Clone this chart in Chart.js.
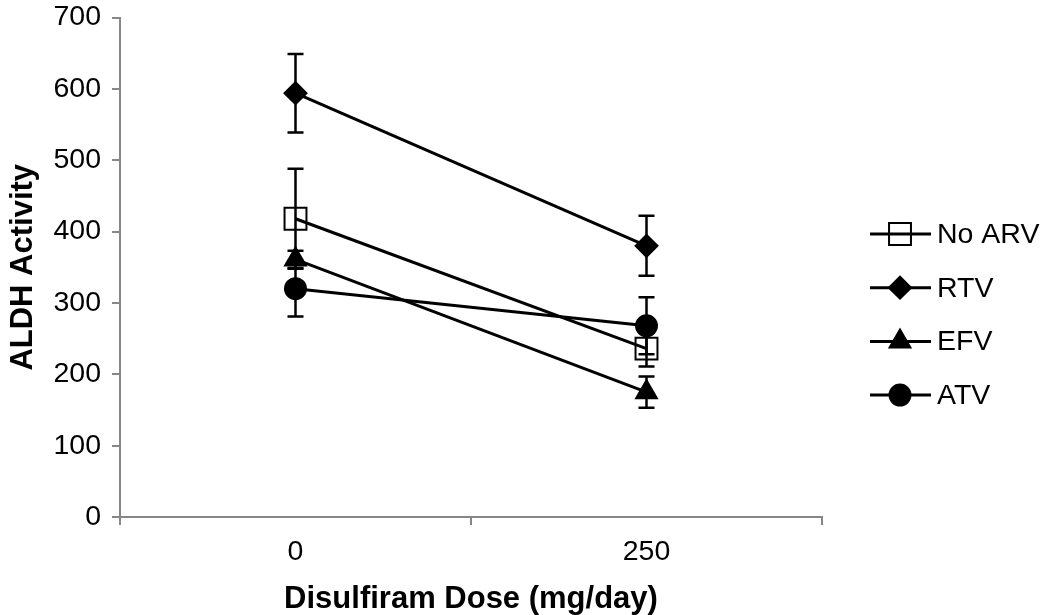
<!DOCTYPE html>
<html>
<head>
<meta charset="utf-8">
<script src="https://cdn.jsdelivr.net/npm/chart.js@4/dist/chart.umd.min.js"></script>
<style>
  html, body { margin: 0; padding: 0; background: #fff; }
  #wrap { width: 1050px; height: 615px; }
</style>
</head>
<body>
<div id="wrap"><canvas id="myChart"></canvas></div>
<script>
// Data
const doses = ["0", "250"];
const seriesNames = ["No ARV", "RTV", "EFV", "ATV"];
const noArv = [418, 236];
const rtv = [594, 380];
const efv = [361, 175];
const atv = [320, 268];
// error bars (+/-)
const noArvErr = [70, 25];
const rtvErr = [55, 42];
const efvErr = [12, 22];
const atvErr = [39, 40];
const yTicks = [0, 100, 200, 300, 400, 500, 600, 700];

const FONT = "Arial, 'Liberation Sans', sans-serif";
const AXIS_GREY = "#878787";

function series(label, data, err, style, radius, fill) {
  return {
    label: label,
    data: data,
    errors: err,
    borderColor: "#000",
    borderWidth: 3,
    pointStyle: style,
    pointRadius: radius,
    pointHoverRadius: radius,
    pointBackgroundColor: fill,
    pointBorderColor: "#000",
    pointBorderWidth: 2,
    tension: 0,
    fill: false
  };
}

// error bars drawn under the markers
const errorBars = {
  id: "errorBars",
  beforeDatasetsDraw(chart) {
    const ctx = chart.ctx;
    const y = chart.scales.y;
    ctx.save();
    ctx.strokeStyle = "#000";
    ctx.lineWidth = 2.5;
    chart.data.datasets.forEach((ds, i) => {
      chart.getDatasetMeta(i).data.forEach((pt, j) => {
        const v = ds.data[j], e = ds.errors[j];
        const top = y.getPixelForValue(v + e);
        const bot = y.getPixelForValue(v - e);
        ctx.beginPath();
        ctx.moveTo(pt.x, top); ctx.lineTo(pt.x, bot);
        ctx.moveTo(pt.x - 8, top); ctx.lineTo(pt.x + 8, top);
        ctx.moveTo(pt.x - 8, bot); ctx.lineTo(pt.x + 8, bot);
        ctx.stroke();
      });
    });
    ctx.restore();
  }
};

// legend with line + marker, on the right
const lineLegend = {
  id: "lineLegend",
  afterDraw(chart) {
    const ctx = chart.ctx;
    const x0 = chart.chartArea.right + 48;
    ctx.save();
    chart.data.datasets.forEach((ds, i) => {
      const y = 234 + i * 53.7;
      ctx.strokeStyle = "#000";
      ctx.lineWidth = 3;
      ctx.beginPath();
      ctx.moveTo(x0, y); ctx.lineTo(x0 + 61, y);
      ctx.stroke();
      ctx.fillStyle = ds.pointBackgroundColor;
      ctx.strokeStyle = "#000";
      ctx.lineWidth = 2;
      Chart.helpers.drawPoint(ctx, { pointStyle: ds.pointStyle, radius: ds.pointRadius, borderWidth: 2 }, x0 + 30, y);
      ctx.fillStyle = "#000";
      ctx.font = "28.5px " + FONT;
      ctx.textBaseline = "middle";
      ctx.fillText(ds.label, x0 + 67, y + 1);
    });
    ctx.restore();
  }
};

const ctx = document.getElementById("myChart").getContext("2d");
const myChart = new Chart(ctx, {
  type: "line",
  data: {
    labels: doses,
    datasets: [
      series(seriesNames[0], noArv, noArvErr, "rect", 15.5, "rgba(0,0,0,0)"),
      series(seriesNames[1], rtv, rtvErr, "rectRot", 11, "#000"),
      series(seriesNames[2], efv, efvErr, "triangle", 12, "#000"),
      series(seriesNames[3], atv, atvErr, "circle", 10.5, "#000")
    ]
  },
  options: {
    responsive: true,
    maintainAspectRatio: false,
    animation: false,
    layout: { padding: { top: 14, right: 228, left: 0, bottom: 0 } },
    plugins: {
      legend: { display: false },
      tooltip: { enabled: false }
    },
    scales: {
      x: {
        type: "category",
        offset: true,
        grid: {
          offset: true,
          drawOnChartArea: false,
          drawTicks: true,
          tickLength: 8,
          color: AXIS_GREY,
          lineWidth: 2
        },
        border: { color: AXIS_GREY, width: 2 },
        ticks: { color: "#000", font: { size: 28.5, family: FONT }, padding: 10 },
        title: {
          display: true,
          text: "Disulfiram Dose (mg/day)",
          color: "#000",
          font: { size: 31, weight: "bold", family: FONT },
          padding: { top: 12, bottom: -3 }
        },
        afterFit(scale) { scale.height = 98; }
      },
      y: {
        min: 0,
        max: 700,
        afterBuildTicks(scale) { scale.ticks = yTicks.map(v => ({ value: v })); },
        grid: {
          drawOnChartArea: false,
          drawTicks: true,
          tickLength: 8,
          color: AXIS_GREY,
          lineWidth: 2
        },
        border: { color: AXIS_GREY, width: 2 },
        ticks: { color: "#000", font: { size: 28.5, family: FONT }, padding: 11 },
        title: {
          display: true,
          text: "ALDH Activity",
          color: "#000",
          font: { size: 31, weight: "bold", family: FONT },
          padding: { top: 5, bottom: 0 }
        },
        afterFit(scale) { scale.width = 120; scale.paddingTop = 0; }
      }
    }
  },
  plugins: [errorBars, lineLegend]
});
</script>
</body>
</html>
